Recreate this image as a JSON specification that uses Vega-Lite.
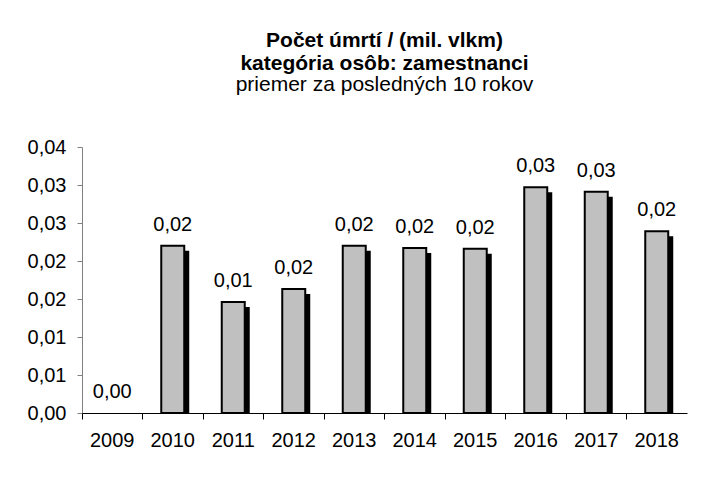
{
  "$schema": "https://vega.github.io/schema/vega-lite/v6.json",
  "autosize": {"type": "none"},
  "padding": {"left": 82, "top": 147, "right": 23, "bottom": 69},
  "width": 605,
  "height": 266,
  "background": "white",
  "title": {
    "text": ["Počet úmrtí / (mil. vlkm)", "kategória osôb: zamestnanci"],
    "subtitle": "priemer za posledných 10 rokov",
    "anchor": "middle",
    "frame": "group",
    "font": "Liberation Sans",
    "fontSize": 21,
    "fontWeight": "bold",
    "lineHeight": 23,
    "subtitleFont": "Liberation Sans",
    "subtitleFontSize": 21,
    "subtitleLineHeight": 23,
    "subtitlePadding": 0,
    "subtitleColor": "black",
    "color": "black",
    "offset": 42
  },
  "data": {
    "values": [
      {"year": "2009", "v": 0.0},
      {"year": "2010", "v": 0.0220},
      {"year": "2011", "v": 0.0146},
      {"year": "2012", "v": 0.0163},
      {"year": "2013", "v": 0.0220},
      {"year": "2014", "v": 0.0217},
      {"year": "2015", "v": 0.0216},
      {"year": "2016", "v": 0.0297},
      {"year": "2017", "v": 0.0291},
      {"year": "2018", "v": 0.0239}
    ]
  },
  "encoding": {
    "x": {
      "field": "year", "type": "ordinal",
      "scale": {"paddingInner": 0, "paddingOuter": 0},
      "axis": {
        "title": null, "labelAngle": 0, "bandPosition": 0,
        "domainColor": "black", "tickColor": "black", "tickSize": 6,
        "labelFont": "Liberation Sans", "labelFontSize": 20, "labelColor": "black",
        "labelPadding": 11, "labelBaseline": "top", "zindex": 1
      }
    },
    "y": {
      "field": "v", "type": "quantitative", "stack": null,
      "scale": {"domain": [0, 0.035], "nice": false},
      "axis": {
        "title": null, "grid": false,
        "values": [0, 0.005, 0.01, 0.015, 0.02, 0.025, 0.03, 0.035],
        "labelExpr": "replace(format(datum.value + 0.000001, '.2f'), '.', ',')",
        "domainColor": "#808080", "tickColor": "#808080", "tickSize": 5,
        "labelFont": "Liberation Sans", "labelFontSize": 20, "labelColor": "black",
        "labelPadding": 11
      }
    }
  },
  "layer": [
    {
      "transform": [{"filter": "datum.v > 0"}],
      "mark": {"type": "bar", "color": "black", "xOffset": 5, "yOffset": 5, "y2Offset": 0, "width": {"band": 0.38}},
      "encoding": {"y2": {"datum": 0}}
    },
    {
      "transform": [{"filter": "datum.v > 0"}],
      "mark": {"type": "bar", "fill": "#c0c0c0", "stroke": "black", "strokeWidth": 2, "width": {"band": 0.38}}
    },
    {
      "mark": {"type": "text", "baseline": "alphabetic", "dy": -15, "font": "Liberation Sans", "fontSize": 20, "color": "black"},
      "encoding": {
        "text": {"field": "v", "type": "quantitative", "format": ".2f"}
      }
    }
  ],
  "config": {
    "locale": {"number": {"decimal": ",", "thousands": " ", "grouping": [3], "currency": ["", " €"]}},
    "view": {"stroke": null}
  }
}
